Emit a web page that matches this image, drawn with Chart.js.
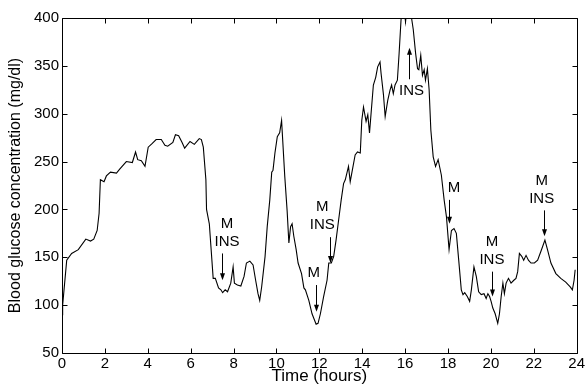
<!DOCTYPE html>
<html>
<head>
<meta charset="utf-8">
<script src="https://cdn.jsdelivr.net/npm/chart.js@4.4.0/dist/chart.umd.min.js"></script>
<style>
    html, body { margin: 0; padding: 0; background: #fff; }
</style>
</head>
<body>
<canvas id="glucose-chart" width="587" height="385"></canvas>
<script>
// time of day (hours) and blood glucose (mg/dl)
const hours = [
    0.00, 0.03, 0.22, 0.45, 0.76, 1.11, 1.33, 1.48, 1.64, 1.73, 1.79, 1.96, 2.07, 2.26, 2.54, 2.69,
    3.00, 3.28, 3.43, 3.53, 3.70, 3.87, 4.02, 4.21, 4.39, 4.63, 4.80, 4.93, 5.17, 5.29, 5.44, 5.60,
    5.72, 5.97, 6.17, 6.40, 6.50, 6.59, 6.71, 6.74, 6.87, 7.05, 7.15, 7.30, 7.41, 7.49, 7.61, 7.72,
    7.87, 7.98, 8.04, 8.18, 8.34, 8.49, 8.60, 8.76, 8.91, 9.03, 9.14, 9.22, 9.31, 9.47, 9.57, 9.69,
    9.78, 9.84, 9.93, 10.04, 10.15, 10.24, 10.27, 10.39, 10.50, 10.58, 10.66, 10.73, 10.81, 10.92, 11.01, 11.17,
    11.28, 11.35, 11.51, 11.66, 11.85, 11.94, 12.05, 12.20, 12.36, 12.44, 12.56, 12.67, 12.78, 12.90, 13.02, 13.13,
    13.21, 13.36, 13.44, 13.67, 13.78, 13.91, 13.98, 14.06, 14.18, 14.26, 14.34, 14.52, 14.63, 14.72, 14.83, 14.88,
    14.99, 15.07, 15.19, 15.30, 15.37, 15.45, 15.53, 15.64, 15.72, 15.81, 15.90, 16.02, 16.15, 16.30, 16.38, 16.49,
    16.58, 16.64, 16.73, 16.81, 16.89, 16.95, 17.04, 17.12, 17.20, 17.31, 17.42, 17.54, 17.69, 17.82, 17.93, 18.05,
    18.16, 18.28, 18.39, 18.50, 18.62, 18.70, 18.78, 18.90, 19.01, 19.09, 19.21, 19.32, 19.43, 19.55, 19.68, 19.78,
    19.86, 19.94, 20.01, 20.09, 20.20, 20.32, 20.40, 20.48, 20.56, 20.63, 20.71, 20.82, 20.94, 21.07, 21.17, 21.25,
    21.33, 21.44, 21.53, 21.64, 21.75, 21.87, 22.03, 22.18, 22.33, 22.52, 22.64, 22.80, 23.03, 23.26, 23.49, 23.70,
    23.80, 23.88, 23.93
];
const glucose = [
    90, 100, 147, 154, 158, 169, 167, 169, 178, 196, 231, 229, 235, 239, 238, 242,
    250, 249, 260, 252, 251, 245, 265, 269, 273, 273, 267, 266, 270, 278, 277, 270,
    264, 271, 268, 274, 273, 265, 231, 200, 185, 128, 128, 118, 116, 113, 116, 114,
    123, 140, 123, 121, 120, 130, 144, 146, 142, 126, 112, 105, 119, 151, 182, 210,
    239, 241, 259, 276, 280, 293, 281, 234, 198, 165, 182, 185, 172, 158, 144, 133,
    118, 116, 105, 91, 80, 81, 91, 109, 126, 144, 144, 151, 168, 189, 210, 227,
    231, 245, 229, 257, 260, 259, 293, 307, 292, 299, 280, 330, 338, 349, 354, 342,
    320, 297, 314, 325, 330, 321, 330, 335, 363, 398, 420, 396, 425, 400, 388, 363,
    347, 346, 361, 340, 346, 335, 347, 325, 283, 255, 245, 252, 236, 210, 192, 158,
    178, 180, 175, 147, 116, 111, 113, 109, 104, 116, 140, 130, 114, 111, 112, 107,
    112, 109, 104, 97, 91, 81, 91, 109, 123, 112, 123, 128, 123, 126, 128, 135,
    154, 151, 147, 152, 147, 144, 144, 147, 156, 168, 158, 144, 133, 128, 124, 119,
    116, 126, 137
];

// meal (M) and insulin (INS) markers: arrow time, arrow tip / tail (mg/dl), label time
const markHours = [7.44, 11.85, 12.51, 16.18, 18.05, 20.05, 22.49];
const markTips = [126, 93, 144, 369, 185, 109, 172];
const markTails = [154, 121, 171, 336, 210, 135, 199];
const markLabels = [['M', 'INS'], ['M'], ['M', 'INS'], ['INS'], ['M'], ['M', 'INS'], ['M', 'INS']];
const labelHours = [7.70, 11.74, 12.14, 16.30, 18.28, 20.05, 22.37];

const FONT = "'Liberation Sans', Arial, Helvetica, sans-serif";

// matlab style box with ticks pointing inwards
const framePlugin = {
    id: 'frame',
    afterDatasetsDraw(chart) {
        const {ctx, chartArea: a, scales: {x, y}} = chart;
        const left = Math.round(a.left) + 0.5;
        const right = Math.round(a.right) + 0.5;
        const top = Math.round(a.top) + 0.5;
        const bottom = Math.round(a.bottom) + 0.5;
        ctx.save();
        ctx.strokeStyle = '#000';
        ctx.lineWidth = 1;
        ctx.beginPath();
        ctx.rect(left, top, right - left, bottom - top);
        x.ticks.forEach(t => {
            const px = Math.round(x.getPixelForValue(t.value)) + 0.5;
            ctx.moveTo(px, bottom);
            ctx.lineTo(px, bottom - 5);
            ctx.moveTo(px, top);
            ctx.lineTo(px, top + 5);
        });
        y.ticks.forEach(t => {
            const py = Math.round(y.getPixelForValue(t.value)) + 0.5;
            ctx.moveTo(left, py);
            ctx.lineTo(left + 5, py);
            ctx.moveTo(right, py);
            ctx.lineTo(right - 5, py);
        });
        ctx.stroke();
        ctx.restore();
    }
};

const markerPlugin = {
    id: 'markers',
    afterDatasetsDraw(chart) {
        const {ctx, scales: {x, y}} = chart;
        ctx.save();
        ctx.strokeStyle = '#000';
        ctx.fillStyle = '#000';
        ctx.lineWidth = 1;
        ctx.font = '15px ' + FONT;
        ctx.textAlign = 'center';
        ctx.textBaseline = 'middle';
        markHours.forEach((h, i) => {
            const px = Math.round(x.getPixelForValue(h)) + 0.5;
            const yTip = y.getPixelForValue(markTips[i]);
            const yTail = y.getPixelForValue(markTails[i]);
            const dir = yTip > yTail ? 1 : -1;

            ctx.beginPath();
            ctx.moveTo(px, yTail);
            ctx.lineTo(px, yTip - dir * 5);
            ctx.stroke();

            ctx.beginPath();
            ctx.moveTo(px, yTip);
            ctx.lineTo(px - 2.5, yTip - dir * 7);
            ctx.lineTo(px + 2.5, yTip - dir * 7);
            ctx.closePath();
            ctx.fill();

            const lx = x.getPixelForValue(labelHours[i]);
            const lines = markLabels[i];
            lines.forEach((text, j) => {
                let ly;
                if (dir > 0) {
                    ly = yTail - 12 - (lines.length - 1 - j) * 18;
                } else {
                    ly = yTail + 12 + j * 18;
                }
                ctx.fillText(text, lx, ly);
            });
        });
        ctx.restore();
    }
};

const ctx = document.getElementById('glucose-chart').getContext('2d');
new Chart(ctx, {
    type: 'line',
    data: {
        datasets: [{
            label: 'Blood glucose',
            data: hours.map((h, i) => ({x: h, y: glucose[i]})),
            borderColor: '#000',
            borderWidth: 1.1,
            pointRadius: 0,
            tension: 0,
            fill: false
        }]
    },
    options: {
        responsive: false,
        animation: false,
        devicePixelRatio: 1,
        layout: {padding: {top: 18, right: 8, left: 0, bottom: 0}},
        plugins: {
            legend: {display: false},
            tooltip: {enabled: false}
        },
        scales: {
            x: {
                type: 'linear',
                min: 0,
                max: 24,
                grid: {display: false, drawTicks: false},
                border: {display: false},
                ticks: {
                    stepSize: 2,
                    color: '#000',
                    padding: 2,
                    maxRotation: 0,
                    autoSkip: false,
                    font: {family: FONT, size: 15}
                },
                title: {
                    display: true,
                    text: 'Time (hours)',
                    color: '#000',
                    padding: 0,
                    font: {family: FONT, size: 17, lineHeight: 1}
                },
                afterFit(scale) {
                    scale.height = 32;
                }
            },
            y: {
                min: 50,
                max: 400,
                grid: {display: false, drawTicks: false},
                border: {display: false},
                ticks: {
                    stepSize: 50,
                    color: '#000',
                    padding: 3,
                    font: {family: FONT, size: 15}
                },
                title: {
                    display: true,
                    text: 'Blood glucose concentration (mg/dl)',
                    color: '#000',
                    padding: {top: 8, bottom: 0},
                    font: {family: FONT, size: 16, lineHeight: 1}
                },
                afterFit(scale) {
                    scale.width = 62;
                }
            }
        }
    },
    plugins: [framePlugin, markerPlugin]
});
</script>
</body>
</html>
